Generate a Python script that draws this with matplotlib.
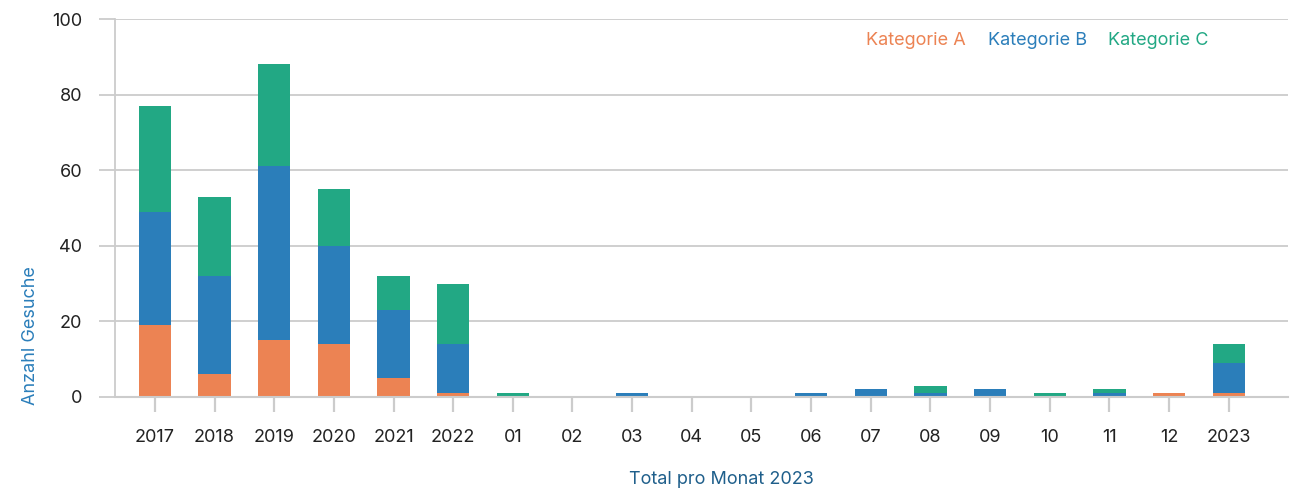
import numpy as np
import matplotlib
import matplotlib.pyplot as plt

matplotlib.use("Agg")
plt.rcParams["font.family"] = ["Inter", "DejaVu Sans"]

# ── Daten ─────────────────────────────────────────────────────────
labels = ["2017", "2018", "2019", "2020", "2021", "2022",
          "01", "02", "03", "04", "05", "06", "07", "08", "09", "10", "11", "12",
          "2023"]
kat_a = [19, 6, 15, 14, 5, 1, 0, 0, 0, 0, 0, 0, 0, 0, 0, 0, 0, 1, 1]
kat_b = [30, 26, 46, 26, 18, 13, 0, 0, 1, 0, 0, 1, 2, 1, 2, 0, 1, 0, 8]
kat_c = [28, 21, 27, 15, 9, 16, 1, 0, 0, 0, 0, 0, 0, 2, 0, 1, 1, 0, 5]

colors = ["#EC8353", "#2B7EBA", "#22A884"]
grid_col = "#CCCCCC"
fs = 13

fig = plt.figure(figsize=(12.91, 4.88), dpi=100)
ax = fig.add_axes([0.089, 0.1865, 0.909, 0.7745])

x = np.arange(len(labels))
a = np.array(kat_a)
b = np.array(kat_b)
c = np.array(kat_c)
w = 0.54
ax.bar(x, a, w, color=colors[0], label="Kategorie A", zorder=3)
ax.bar(x, b, w, bottom=a, color=colors[1], label="Kategorie B", zorder=3)
ax.bar(x, c, w, bottom=a + b, color=colors[2], label="Kategorie C", zorder=3)

ax.set_xlim(-0.67, 19.0)
ax.set_ylim(0, 100)
ax.set_yticks([0, 20, 40, 60, 80, 100])
ax.set_xticks(x)
ax.set_xticklabels(labels)

ax.grid(axis="y", color=grid_col, linewidth=1.3, zorder=0)
for s in ["top", "right"]:
    ax.spines[s].set_visible(False)
ax.spines["left"].set_color(grid_col)
ax.spines["left"].set_linewidth(1.3)
ax.spines["bottom"].set_color(grid_col)
ax.spines["bottom"].set_linewidth(1.5)
ax.spines["bottom"].set_zorder(4)

ax.tick_params(axis="y", length=11.5, width=1.3, color=grid_col, pad=12,
               labelsize=fs, labelcolor="#222222")
ax.tick_params(axis="x", length=11, width=1.6, color=grid_col, pad=12,
               labelsize=fs, labelcolor="#222222")

ax.set_ylabel("Anzahl Gesuche", color="#2B7EBA", fontsize=fs, loc="bottom")
ax.yaxis.set_label_coords(-0.065, -0.02)
fig.text(0.559, 0.018, "Total pro Monat 2023", color="#1F5F8B", fontsize=fs,
         ha="center", va="center")

leg = ax.legend(ncol=3, frameon=False, handlelength=0, handletextpad=0,
                columnspacing=1.2, fontsize=fs, loc="upper right",
                bbox_to_anchor=(0.946, 1.008))
for h in leg.legend_handles:
    h.set_visible(False)
for t, col in zip(leg.get_texts(), colors):
    t.set_color(col)

fig.savefig("out.png", dpi=100)
